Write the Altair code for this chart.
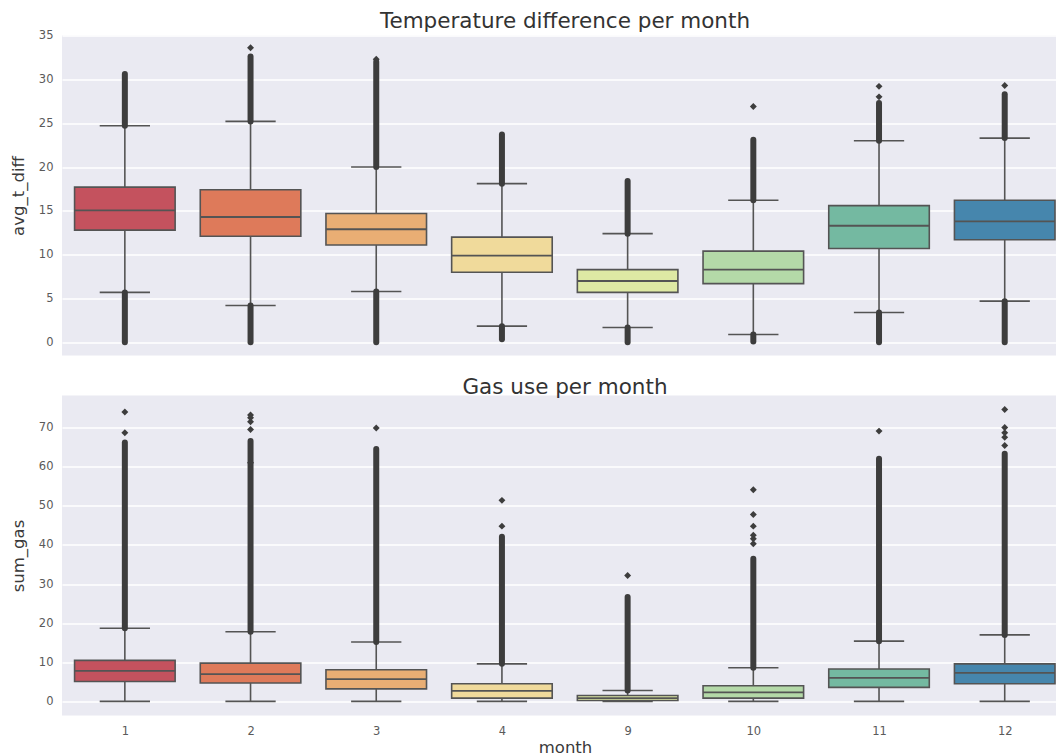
import altair as alt
import pandas as pd

# Category order on the x axis (month number as shown)
months = ["1", "2", "3", "4", "9", "10", "11", "12"]
palette = ["#c4525e", "#de7a5a", "#e9ae74", "#f0da9b", "#dee9a4", "#b4d9a8", "#74b9a1", "#4686ad"]

# ---- avg_t_diff box statistics per month ----
t_q1 = [12.8, 12.1, 11.1, 8.0, 5.7, 6.7, 10.7, 11.7]
t_med = [15.05, 14.3, 12.9, 9.9, 7.0, 8.3, 13.3, 13.8]
t_q3 = [17.7, 17.4, 14.7, 12.0, 8.3, 10.4, 15.6, 16.2]
t_wlo = [5.7, 4.2, 5.8, 1.85, 1.7, 0.9, 3.4, 4.7]
t_whi = [24.7, 25.2, 20.0, 18.1, 12.4, 16.2, 23.0, 23.3]
# densely packed outliers, given as (from, to) runs
t_runs = [
    [(24.7, 30.6), (0.0, 5.7)],
    [(25.2, 32.6), (0.0, 4.2)],
    [(20.0, 32.0), (0.0, 5.8)],
    [(18.1, 23.7), (0.35, 1.85)],
    [(12.4, 18.4), (0.0, 1.7)],
    [(16.2, 23.1), (0.1, 0.9)],
    [(23.0, 27.3), (0.0, 3.4)],
    [(23.3, 28.3), (0.0, 4.7)],
]
# isolated outliers
t_points = [[], [33.6], [32.3], [], [], [26.9], [28.0, 29.2], [29.3]]

# ---- sum_gas box statistics per month ----
g_q1 = [5.1, 4.7, 3.2, 0.85, 0.25, 0.85, 3.6, 4.5]
g_med = [7.8, 7.0, 5.7, 2.7, 0.85, 2.3, 6.0, 7.3]
g_q3 = [10.5, 9.8, 8.1, 4.5, 1.5, 4.0, 8.3, 9.6]
g_wlo = [0.0, 0.0, 0.0, 0.0, 0.0, 0.0, 0.0, 0.0]
g_whi = [18.7, 17.8, 15.2, 9.6, 2.8, 8.6, 15.4, 17.0]
g_runs = [
    [(18.7, 66.2)],
    [(17.8, 66.6)],
    [(15.2, 64.5)],
    [(9.6, 42.1)],
    [(2.8, 26.7)],
    [(8.6, 36.5)],
    [(15.4, 62.0)],
    [(17.0, 63.3)],
]
g_points = [
    [68.7, 74.0],
    [61.0, 69.5, 71.5, 72.5, 73.2],
    [69.9],
    [44.8, 51.4],
    [32.2],
    [40.3, 41.6, 42.5, 44.8, 47.8, 54.1],
    [69.1],
    [65.4, 67.5, 68.7, 70.0, 74.6],
]

FONT = "DejaVu Sans"
LINE = "#545454"
FLIER = "#3d3d3d"
BOX_HALF = 0.4
CAP_HALF = 0.2

label_expr = "[" + ",".join(f"'{m}'" for m in months) + "][datum.value]"
x_scale = alt.Scale(domain=[-0.5, 7.408], nice=False, zero=False)
color_scale = alt.Scale(domain=months, range=palette)


def stats_frame(q1, med, q3, wlo, whi):
    return pd.DataFrame({
        "pos": list(range(len(months))),
        "month": months,
        "q1": q1, "med": med, "q3": q3, "wlo": wlo, "whi": whi,
    })


def runs_frame(runs):
    rows = []
    for i, rs in enumerate(runs):
        for a, b in rs:
            rows.append({"pos": i, "lo": a, "hi": b})
    return pd.DataFrame(rows)


def points_frame(points):
    rows = []
    for i, ps in enumerate(points):
        for v in ps:
            rows.append({"pos": i, "v": v})
    return pd.DataFrame(rows)


def panel(stats, runs, pts, title, ytitle, ydomain, yvals, bottom):
    y_scale = alt.Scale(domain=ydomain, nice=False, zero=False)
    y_axis = alt.Axis(
        values=yvals, title=ytitle, grid=True, gridColor="white", gridWidth=1.3,
        domain=False, ticks=False, labelFont=FONT, labelFontSize=11.5,
        labelColor="#5a5a5a", labelPadding=9, titleFont=FONT, titleFontSize=16.5,
        titleFontWeight="normal", titleColor="#3a3a3a", titlePadding=8,
        minExtent=28, maxExtent=28,
    )
    if bottom:
        x_axis = alt.Axis(
            values=list(range(len(months))), labelExpr=label_expr, title="month",
            grid=False, domain=False, ticks=False, labelFont=FONT, labelFontSize=11.5,
            labelColor="#5a5a5a", labelPadding=10, titleFont=FONT, titleFontSize=16.5,
            titleFontWeight="normal", titleColor="#3a3a3a", titlePadding=2,
            titleX=503,
        )
    else:
        x_axis = None

    def X(field):
        return alt.X(field, scale=x_scale, axis=x_axis)

    def Y(field):
        return alt.Y(field, scale=y_scale, axis=y_axis)

    base = alt.Chart(stats).transform_calculate(
        x_lo=f"datum.pos - {BOX_HALF}", x_hi=f"datum.pos + {BOX_HALF}",
        c_lo=f"datum.pos - {CAP_HALF}", c_hi=f"datum.pos + {CAP_HALF}",
    )

    whisk_up = base.mark_rule(color=LINE, strokeWidth=1.6).encode(
        x=X("pos:Q"), y=Y("q3:Q"), y2="whi:Q",
    )
    whisk_dn = base.mark_rule(color=LINE, strokeWidth=1.6).encode(
        x=X("pos:Q"), y=Y("q1:Q"), y2="wlo:Q",
    )
    box = base.mark_bar(stroke=LINE, strokeWidth=1.6).encode(
        x=X("x_lo:Q"), x2="x_hi:Q", y=Y("q1:Q"), y2="q3:Q",
        fill=alt.Fill("month:N", scale=color_scale, legend=None),
    )
    median = base.mark_rule(color=LINE, strokeWidth=1.8).encode(
        x=X("x_lo:Q"), x2="x_hi:Q", y=Y("med:Q"),
    )
    cap_hi = base.mark_rule(color=LINE, strokeWidth=1.6).encode(
        x=X("c_lo:Q"), x2="c_hi:Q", y=Y("whi:Q"),
    )
    cap_lo = base.mark_rule(color=LINE, strokeWidth=1.6).encode(
        x=X("c_lo:Q"), x2="c_hi:Q", y=Y("wlo:Q"),
    )
    run_marks = alt.Chart(runs).mark_rule(
        color=FLIER, strokeWidth=6, strokeCap="round"
    ).encode(
        x=X("pos:Q"), y=Y("lo:Q"), y2="hi:Q",
    )
    layers = [whisk_up, whisk_dn, box, median, cap_hi, cap_lo, run_marks]
    if len(pts):
        layers.append(
            alt.Chart(pts).mark_point(
                shape="diamond", filled=True, color=FLIER, size=48, opacity=1
            ).encode(x=X("pos:Q"), y=Y("v:Q"))
        )
    return alt.layer(*layers).properties(
        width=994, height=320,
        title=alt.TitleParams(
            title, font=FONT, fontSize=21.5, fontWeight="normal", color="#333333",
            anchor="middle", offset=-3, dx=6,
        ),
    )


top = panel(
    stats_frame(t_q1, t_med, t_q3, t_wlo, t_whi), runs_frame(t_runs), points_frame(t_points),
    "Temperature difference per month", "avg_t_diff", [-1.5, 35.0],
    [0, 5, 10, 15, 20, 25, 30, 35], bottom=False,
)
bottom = panel(
    stats_frame(g_q1, g_med, g_q3, g_wlo, g_whi), runs_frame(g_runs), points_frame(g_points),
    "Gas use per month", "sum_gas", [-3.6, 78.2],
    [0, 10, 20, 30, 40, 50, 60, 70], bottom=True,
)

chart = alt.vconcat(top, bottom, spacing=21).properties(
    padding={"left": 10, "top": 10.5, "right": 0, "bottom": 0},
    background="white",
).configure_view(
    fill="#eaeaf2", stroke=None,
)

chart.save("out.html", embed_options={"renderer": "svg", "actions": False})
